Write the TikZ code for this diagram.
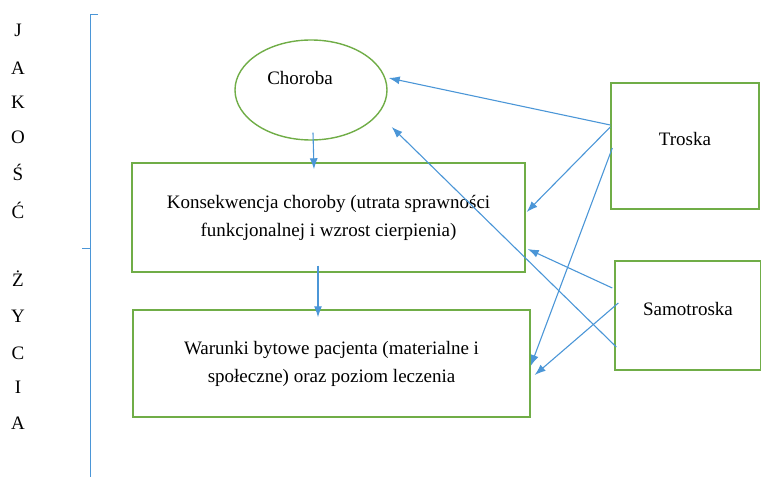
\documentclass[tikz,border=0pt]{standalone}
\usepackage{fontspec}
\setmainfont{Liberation Serif}
\usetikzlibrary{calc,arrows.meta,shapes.geometric}
\definecolor{boxgreen}{RGB}{112,173,71}
\definecolor{arrowblue}{RGB}{75,150,215}

\begin{document}
\begin{tikzpicture}[x=1pt,y=-1pt,
    box/.style={rectangle, draw=boxgreen, line width=1.4pt, align=center, font=\fontsize{19}{28}\selectfont},
    oval/.style={ellipse, draw=boxgreen, line width=1.4pt, minimum width=152pt, minimum height=100pt},
    arr/.style={draw=arrowblue, line width=1.1pt, -{Latex[length=11pt,width=8pt]}},
    letter/.style={font=\fontsize{19}{22}\selectfont},
    brace/.style={draw=arrowblue, line width=0.9pt}]
    \useasboundingbox (0,0) rectangle (761,478);

    % boxes
    \node[oval, label={[xshift=-11pt,yshift=12pt,font=\fontsize{19}{22}\selectfont]center:Choroba}] (choroba) at (311,90) {};
    \node[box, minimum width=393pt, minimum height=109pt] (konsekwencja) at (328.5,217.5)
        {Konsekwencja choroby (utrata sprawności\\funkcjonalnej i wzrost cierpienia)};
    \node[box, minimum width=397pt, minimum height=107pt] (warunki) at (331.5,363.5)
        {Warunki bytowe pacjenta (materialne i\\społeczne) oraz poziom leczenia};
    \node[box, minimum width=148pt, minimum height=126pt, text depth=14pt] (troska) at (685,146) {Troska};
    \node[box, minimum width=146pt, minimum height=109pt, text depth=14pt] (samotroska) at (688,315.5) {Samotroska};

    % jakosc zycia
    \node[letter] (j1) at (18,30) {J};
    \node[letter] (j2) at (18,68) {A};
    \node[letter] (j3) at (18,102) {K};
    \node[letter] (j4) at (18,137) {O};
    \node[letter] (j5) at (18,172) {Ś};
    \node[letter] (j6) at (18,210) {Ć};
    \node[letter] (z1) at (18,279) {Ż};
    \node[letter] (z2) at (18,316) {Y};
    \node[letter] (z3) at (18,353) {C};
    \node[letter] (z4) at (18,387) {I};
    \node[letter] (z5) at (18,423) {A};

    \coordinate (bracetop) at (90,14);
    \coordinate (bracemid) at (90,248);
    \coordinate (bracebot) at (90,477);
    \draw[brace] ($(bracetop)+(8,0)$) -- (bracetop) -- (bracebot);
    \draw[brace] ($(bracemid)+(-8,0)$) -- (bracemid);

    % arrows
    \draw[arr] ($(choroba.south)+(2,-8)$) -- ($(konsekwencja.north)+(-14.5,7)$);
    \draw[arr] ($(konsekwencja.south)+(-10.5,-7)$) -- ($(warunki.north)+(-13.5,8)$);
    \draw[arr] ($(troska.west)+(0,-21)$) -- ($(choroba.east)+(1,-12)$);
    \draw[arr] ($(troska.west)+(0,-19)$) -- ($(konsekwencja.east)+(1,-5.5)$);
    \draw[arr] ($(troska.west)+(2,2)$) -- ($(warunki.east)+(0,2.5)$);
    \draw[arr] ($(samotroska.west)+(-2,-27.5)$) -- ($(konsekwencja.east)+(2,31.5)$);
    \draw[arr] ($(samotroska.west)+(4,-12.5)$) -- ($(warunki.east)+(4,11.5)$);
    \draw[arr] ($(samotroska.west)+(2,31.5)$) -- ($(choroba.east)+(4,37)$);
\end{tikzpicture}
\end{document}
